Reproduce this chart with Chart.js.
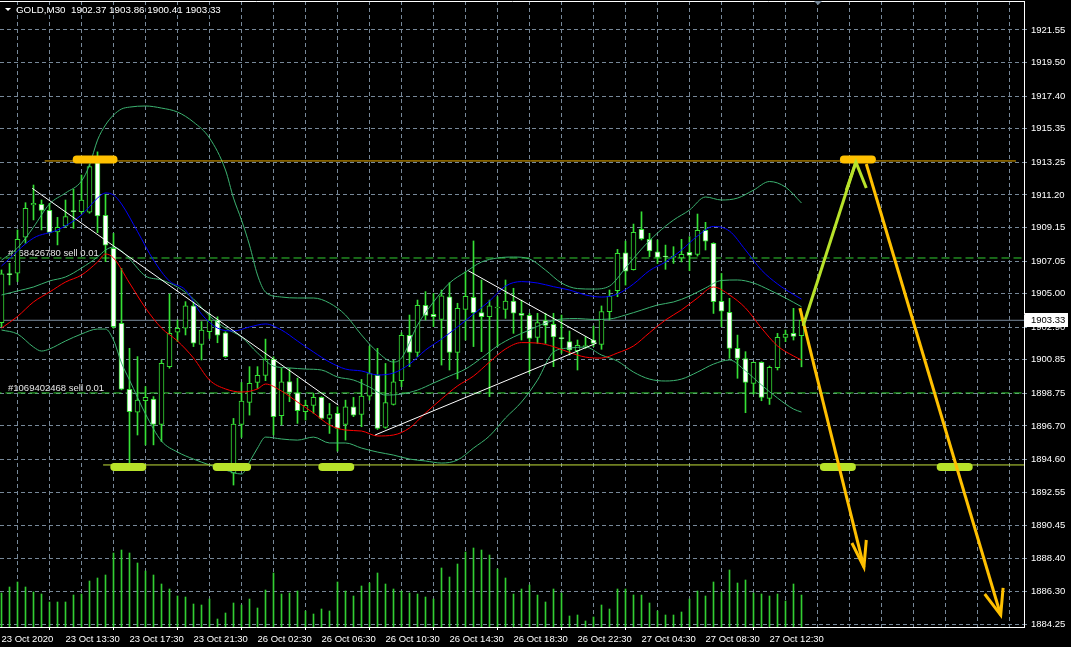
<!DOCTYPE html>
<html>
<head>
<meta charset="utf-8">
<script src="https://cdn.jsdelivr.net/npm/chart.js@4.4.1/dist/chart.umd.min.js"></script>
<style>
  html, body { margin: 0; padding: 0; background: #000; overflow: hidden; }
  #wrap { width: 1071px; height: 647px; }
</style>
</head>
<body>
<div id="wrap"><canvas id="chart" width="1071" height="647"></canvas></div>
<script>
// ---- data (GOLD M30) ----
const opens  = [1903.18,1906.24,1906.28,1908.54,1910.57,1910.61,1910.23,1908.87,1909.25,1910.19,1910.15,1910.11,1913.23,1909.92,1907.85,1903.14,1899.00,1897.56,1898.29,1898.39,1896.80,1900.42,1902.58,1902.83,1904.23,1901.82,1902.61,1903.34,1902.55,1893.74,1896.80,1898.18,1899.43,1899.87,1900.88,1897.34,1899.49,1898.78,1897.59,1897.99,1898.49,1897.17,1897.49,1896.80,1897.90,1897.42,1898.57,1899.87,1896.61,1898.05,1899.54,1902.39,1901.32,1904.27,1903.70,1903.39,1904.81,1901.32,1904.02,1904.77,1903.81,1903.56,1904.10,1904.02,1904.54,1903.77,1903.64,1902.26,1903.31,1903.08,1902.22,1901.99,1901.42,1901.68,1902.09,1901.82,1903.87,1905.19,1907.57,1906.51,1909.04,1908.41,1907.63,1907.34,1907.28,1907.24,1907.59,1907.47,1908.97,1908.16,1904.52,1903.83,1901.57,1900.92,1899.37,1900.69,1898.43,1900.35,1902.26,1902.51,1902.37];
const highs  = [1906.49,1906.91,1909.00,1910.71,1911.82,1910.88,1910.67,1909.79,1910.88,1911.55,1912.45,1913.10,1913.90,1911.24,1908.79,1906.59,1901.57,1901.05,1899.17,1898.54,1900.84,1904.98,1903.35,1904.50,1904.50,1903.25,1903.76,1903.55,1902.61,1897.17,1899.43,1900.42,1900.42,1902.15,1901.04,1900.31,1900.31,1899.70,1898.32,1898.74,1898.53,1898.11,1897.90,1898.32,1898.49,1899.62,1901.71,1901.57,1900.62,1900.83,1902.55,1903.66,1904.60,1905.13,1905.02,1905.23,1905.69,1904.40,1906.38,1908.31,1905.86,1904.60,1904.81,1905.86,1905.34,1904.60,1903.77,1903.77,1903.77,1903.77,1903.66,1902.66,1902.09,1902.30,1902.97,1904.23,1905.23,1907.78,1908.30,1909.37,1910.14,1908.79,1908.37,1908.05,1907.95,1908.41,1908.58,1910.00,1909.48,1908.20,1906.27,1904.71,1902.40,1901.36,1900.71,1900.73,1900.46,1902.51,1902.72,1904.08,1903.86];
const lows   = [1902.93,1905.55,1905.76,1908.16,1909.63,1909.00,1908.79,1908.06,1909.17,1909.10,1910.05,1910.05,1908.83,1907.01,1902.83,1898.96,1893.94,1896.13,1895.51,1895.51,1895.72,1900.32,1901.99,1902.41,1901.68,1900.84,1902.19,1901.92,1901.00,1892.99,1895.98,1897.38,1899.06,1899.54,1896.13,1896.75,1898.22,1896.86,1897.07,1897.49,1897.11,1896.23,1895.12,1895.81,1897.28,1896.65,1898.32,1896.48,1896.55,1898.01,1899.16,1900.42,1901.05,1903.35,1902.93,1900.52,1900.21,1899.65,1902.09,1901.68,1901.36,1898.54,1901.68,1903.45,1902.51,1902.09,1900.00,1901.88,1901.88,1900.42,1901.26,1901.15,1900.21,1901.57,1901.68,1901.51,1903.35,1904.81,1905.54,1906.48,1908.37,1907.32,1906.90,1906.53,1906.90,1906.99,1906.44,1907.36,1907.74,1903.76,1902.93,1900.94,1899.69,1897.53,1898.70,1898.28,1898.05,1900.21,1901.99,1902.09,1900.41];
const closes = [1906.24,1906.20,1908.41,1910.36,1910.67,1910.23,1908.85,1909.17,1909.84,1910.15,1910.88,1912.97,1909.88,1908.04,1902.93,1899.00,1897.60,1898.33,1898.50,1896.80,1900.63,1902.51,1902.83,1904.23,1901.89,1902.72,1903.34,1902.40,1901.04,1896.82,1898.26,1899.37,1899.87,1900.88,1897.28,1899.47,1898.80,1897.65,1897.99,1898.49,1897.17,1897.42,1896.55,1897.90,1897.38,1898.57,1899.99,1896.55,1898.16,1899.47,1902.38,1901.32,1904.27,1903.64,1903.56,1904.86,1901.32,1904.08,1904.83,1903.81,1903.56,1904.23,1904.14,1904.54,1903.77,1903.64,1902.20,1903.18,1903.01,1902.28,1902.18,1901.47,1901.76,1901.72,1901.88,1903.87,1904.85,1907.53,1906.42,1908.85,1908.43,1907.68,1907.28,1907.30,1907.30,1907.47,1907.40,1908.97,1908.30,1904.50,1903.91,1901.57,1900.94,1899.43,1900.69,1898.49,1900.38,1902.26,1902.47,1902.32,1903.33];
const volumes = [34,40,45,40,35,33,25,25,25,32,33,46,49,52,74,77,74,64,56,52,43,38,31,30,23,22,28,8,14,24,22,28,19,37,54,33,34,36,16,13,18,16,45,36,31,41,44,54,43,38,36,34,33,30,28,59,50,63,75,79,77,72,58,49,33,38,42,32,25,38,34,11,12,6,10,22,18,38,38,32,32,24,16,12,12,15,28,36,31,45,35,57,44,47,34,33,31,33,26,43,32];

const timeLabels = ['23 Oct 2020','23 Oct 13:30','23 Oct 17:30','23 Oct 21:30','26 Oct 02:30','26 Oct 06:30','26 Oct 10:30','26 Oct 14:30','26 Oct 18:30','26 Oct 22:30','27 Oct 04:30','27 Oct 08:30','27 Oct 12:30'];
const priceTicks = [1921.55,1919.50,1917.40,1915.35,1913.25,1911.20,1909.15,1907.05,1905.00,1902.90,1900.85,1898.75,1896.70,1894.60,1892.55,1890.45,1888.40,1886.30,1884.25];

// moving averages and bollinger bands (bar index, price)
const blueX = [0,4,7,10,12,13,14,15,17,19,21,23,25,27,29,31,33,35,37,39,41,43,45,47,49,51,53,55,57,59,61,63,65,67,69,71,73,75,77,79,81,83,85,87,89,91,93,95,97,99,100];
const blueY = [1906.74,1908.49,1909.00,1909.94,1911.00,1911.32,1911.19,1910.63,1908.90,1907.11,1905.79,1905.23,1903.72,1902.84,1902.66,1902.91,1903.10,1902.72,1902.03,1901.34,1900.71,1900.27,1900.15,1899.90,1900.02,1900.58,1901.46,1902.15,1902.91,1903.72,1904.54,1905.48,1905.76,1905.67,1905.44,1905.23,1904.92,1904.79,1904.98,1905.61,1906.45,1906.99,1907.74,1908.62,1909.22,1908.93,1907.74,1906.48,1905.61,1904.95,1904.66];
const redX  = [0,2,4,6,8,10,12,13,14,16,18,20,22,24,26,28,30,32,33,35,37,39,41,43,45,47,49,51,53,55,57,59,61,63,65,67,69,71,73,75,77,79,81,83,85,87,89,91,93,95,97,99,100];
const redY  = [1902.84,1903.57,1904.48,1905.10,1905.73,1906.17,1906.99,1907.49,1907.24,1905.67,1904.10,1902.84,1902.03,1900.96,1899.58,1899.02,1898.83,1899.02,1899.33,1898.89,1898.20,1897.51,1896.76,1896.44,1896.38,1896.07,1896.13,1896.57,1897.51,1898.39,1899.21,1899.83,1900.71,1901.53,1901.93,1901.90,1901.68,1901.31,1901.02,1900.96,1901.28,1901.72,1902.55,1903.35,1903.98,1904.73,1905.42,1904.92,1904.10,1902.84,1901.72,1901.09,1900.84];
const bandMidX = [0,2,4,6,8,10,12,13,14,15,16,18,20,22,24,26,28,30,32,34,36,38,40,42,44,46,48,50,52,54,56,58,60,62,64,66,68,70,72,74,76,78,80,82,84,86,88,90,92,94,96,98,100];
const bandMidY = [1904.92,1905.17,1905.42,1905.80,1906.05,1906.61,1907.30,1907.74,1907.93,1907.68,1907.18,1906.11,1905.86,1905.42,1904.67,1903.60,1902.84,1902.28,1901.28,1900.46,1900.34,1900.27,1900.21,1899.77,1899.58,1899.14,1898.64,1898.70,1898.95,1899.39,1899.83,1900.27,1900.96,1901.72,1902.28,1902.72,1903.16,1903.41,1903.44,1903.38,1903.41,1903.66,1903.97,1904.29,1904.48,1904.85,1905.36,1905.83,1905.86,1905.67,1905.23,1904.73,1904.18];
const bandUpX = [0,2,4,6,8,10,11,12,13,14,15,16,18,20,22,24,26,28,29,30,31,32,33,35,37,39,41,43,45,47,49,50,52,54,56,58,60,62,64,66,68,70,72,74,76,78,80,82,84,86,88,90,92,94,96,98,100];
const bandUpY = [1907.11,1907.87,1909.18,1910.63,1911.32,1912.07,1913.07,1914.64,1915.59,1916.21,1916.59,1916.71,1916.78,1916.65,1916.40,1915.77,1914.77,1912.76,1911.00,1909.62,1908.05,1906.17,1905.10,1904.79,1904.73,1904.73,1904.41,1903.66,1902.41,1901.34,1900.71,1900.96,1903.03,1904.48,1905.67,1906.36,1906.99,1907.24,1907.30,1907.18,1906.48,1905.67,1905.32,1905.29,1905.48,1906.61,1907.80,1908.81,1909.62,1910.25,1911.07,1910.88,1911.00,1911.50,1912.04,1911.69,1910.69];
const bandLowX = [0,2,4,5,6,8,10,12,13,14,15,16,18,20,22,24,26,28,30,31,32,33,35,37,39,41,43,45,47,49,51,53,55,57,59,61,63,65,67,69,71,73,75,77,79,81,83,85,87,89,91,93,95,97,99,100];
const bandLowY = [1902.72,1902.47,1901.65,1901.40,1901.53,1902.03,1902.47,1902.78,1902.78,1902.09,1900.65,1899.58,1897.45,1895.75,1895.06,1894.62,1894.25,1893.93,1893.68,1894.44,1895.31,1896.00,1895.88,1895.81,1896.00,1895.63,1895.63,1895.31,1895.06,1894.87,1894.62,1894.50,1894.37,1894.56,1895.31,1896.07,1897.20,1898.20,1899.58,1901.34,1901.59,1901.65,1901.15,1900.77,1900.08,1899.64,1899.52,1899.64,1900.08,1900.58,1900.84,1900.15,1899.27,1898.45,1897.76,1897.57];

// drawn objects: [startBar, startPrice, endBar, endPrice]
const trendLines = [[3.85,1911.61,42.1,1898.01],[46.7,1896.13,74.4,1901.90],[58.35,1906.44,74.2,1901.99]];
const orderLevels = [1907.24, 1898.77];
const orderTexts = ['#168426780 sell 0.01', '#1069402468 sell 0.01'];
const resistance = 1913.33;
const support = 1894.25;
const bidPrice = 1903.33;
const topMarks = [[9.4,14.0],[105.3,108.8]];
const bottomMarks = [[14.1,17.6],[26.9,30.7],[40.1,43.6],[102.8,106.3],[117.4,120.9]];
const upArrow = [[100.2,1902.97],[106.8,1913.26]];
const upArrowHead = [[105.6,1911.5],[106.8,1913.26],[108.1,1911.63]];
const downArrowA = [[99.8,1904.10],[107.8,1887.84]];
const downArrowAHead = [[106.3,1889.35],[107.8,1887.84],[108.1,1889.54]];
const downArrowB = [[108.1,1913.14],[124.9,1884.83]];
const downArrowBHead = [[122.9,1886.15],[124.9,1884.83],[125.2,1886.53]];

const bars = opens.map((_, i) => i);
const GREEN = '#36e036';
const FONT = "'Liberation Sans', Arial, sans-serif";
const GRID = '#778899';

const pts = (xs, ys) => xs.map((x, k) => ({ x, y: ys[k] }));
const seg = (pairs) => pairs.map(p => ({ x: p[0], y: p[1] }));
const line = (data, color, width, extra) => Object.assign({
  type: 'line', data, borderColor: color, borderWidth: width, pointRadius: 0,
  fill: false, yAxisID: 'y', xAxisID: 'x'
}, extra || {});

const datasets = [];
datasets.push({
  type: 'bar', data: bars.map(i => ({ x: i, y: volumes[i] })), backgroundColor: '#32cd32',
  barThickness: 1, grouped: false, yAxisID: 'yv', xAxisID: 'x', order: 20
});
datasets.push(line([{ x: -1, y: bidPrice }, { x: 130, y: bidPrice }], GRID, 1, { order: 19 }));
orderLevels.forEach(lv => datasets.push(line([{ x: -1, y: lv }, { x: 130, y: lv }], '#32cd32', 1, { borderDash: [8, 4], order: 18 })));
datasets.push({
  type: 'bar', data: bars.map(i => ({ x: i, y: [lows[i], highs[i]] })), backgroundColor: GREEN,
  barThickness: 1, grouped: false, yAxisID: 'y', xAxisID: 'x', order: 15
});
datasets.push({
  type: 'bar', data: bars.map(i => ({ x: i, y: [opens[i], closes[i]] })),
  backgroundColor: bars.map(i => closes[i] >= opens[i] ? '#000000' : '#ffffff'),
  borderColor: GREEN, borderWidth: 1, borderSkipped: false, minBarLength: 1,
  barThickness: 5, grouped: false, yAxisID: 'y', xAxisID: 'x', order: 14
});
datasets.push(line(pts(bandUpX, bandUpY), '#3cb371', 1, { order: 10, cubicInterpolationMode: 'monotone' }));
datasets.push(line(pts(bandMidX, bandMidY), '#3cb371', 1, { order: 10, cubicInterpolationMode: 'monotone' }));
datasets.push(line(pts(bandLowX, bandLowY), '#3cb371', 1, { order: 10, cubicInterpolationMode: 'monotone' }));
datasets.push(line(pts(redX, redY), '#ff0000', 1, { order: 9, cubicInterpolationMode: 'monotone' }));
datasets.push(line(pts(blueX, blueY), '#0000ff', 1, { order: 9, cubicInterpolationMode: 'monotone' }));
trendLines.forEach(t => datasets.push(line([{ x: t[0], y: t[1] }, { x: t[2], y: t[3] }], '#ffffff', 1, { order: 8 })));
datasets.push(line([{ x: 5.4, y: resistance }, { x: 126.8, y: resistance }], '#f0b000', 1, { order: 7 }));
datasets.push(line([{ x: 12.7, y: support }, { x: 130, y: support }], '#c4e03a', 1, { order: 7 }));
topMarks.forEach(m => datasets.push(line([{ x: m[0], y: 1913.42 }, { x: m[1], y: 1913.42 }], '#ffc000', 8, { borderCapStyle: 'round', order: 6 })));
bottomMarks.forEach(m => datasets.push(line([{ x: m[0], y: 1894.12 }, { x: m[1], y: 1894.12 }], '#b8e22a', 8, { borderCapStyle: 'round', order: 6 })));
[upArrow, upArrowHead].forEach(a => datasets.push(line(seg(a), '#b8e22a', 3, { order: 5 })));
[downArrowA, downArrowAHead, downArrowB, downArrowBHead].forEach(a => datasets.push(line(seg(a), '#ffc000', 3, { order: 5 })));

const overlay = {
  id: 'overlay',
  beforeDatasetsDraw(chart) {
    const { ctx, scales: { y } } = chart;
    ctx.save();
    ctx.font = '9.5px ' + FONT;
    ctx.fillStyle = '#e6e6e6';
    ctx.textBaseline = 'alphabetic';
    orderLevels.forEach((lv, k) => ctx.fillText(orderTexts[k], 8, y.getPixelForValue(lv) - 2));
    ctx.restore();
  },
  afterDraw(chart) {
    const { ctx, scales: { y } } = chart;
    ctx.save();
    // header
    ctx.fillStyle = '#ffffff';
    ctx.beginPath();
    ctx.moveTo(5, 8); ctx.lineTo(11, 8); ctx.lineTo(8, 11); ctx.closePath(); ctx.fill();
    ctx.font = '9.8px ' + FONT;
    ctx.textBaseline = 'alphabetic';
    ctx.fillText('GOLD,M30  ' + [opens[100], highs[100], lows[100], closes[100]].map(v => v.toFixed(2)).join(' '), 16, 13);
    // shift marker
    ctx.fillStyle = '#778899';
    ctx.beginPath();
    ctx.moveTo(814, 1); ctx.lineTo(822, 1); ctx.lineTo(818, 5); ctx.closePath(); ctx.fill();
    // bid price box
    const py = Math.round(y.getPixelForValue(bidPrice));
    ctx.fillStyle = '#ffffff';
    ctx.fillRect(1025, py - 7, 43, 14);
    ctx.fillStyle = '#000000';
    ctx.textBaseline = 'middle';
    ctx.font = '9.5px ' + FONT;
    ctx.fillText(bidPrice.toFixed(2), 1031, py + 0.5);
    ctx.restore();
  }
};

new Chart(document.getElementById('chart'), {
  type: 'bar',
  data: { datasets },
  plugins: [overlay],
  options: {
    responsive: false,
    animation: false,
    devicePixelRatio: 1,
    layout: { padding: 0 },
    plugins: { legend: { display: false }, tooltip: { enabled: false } },
    scales: {
      x: {
        type: 'linear', position: 'bottom', offset: false,
        min: -0.1875, max: 127.8125,
        afterBuildTicks: (s) => { s.ticks = []; for (let i = 0; i <= 124; i += 4) s.ticks.push({ value: i }); },
        afterFit: (s) => { s.height = 20; s.paddingLeft = 0; s.paddingRight = 0; },
        grid: {
          color: GRID, lineWidth: 1, drawTicks: true, tickLength: 3,
          tickColor: (c) => (c.tick && c.tick.value % 8 === 0 && c.tick.value <= 96) ? '#ffffff' : 'rgba(0,0,0,0)'
        },
        border: { display: true, color: '#ffffff', width: 1, dash: [4, 3] },
        ticks: {
          autoSkip: false, maxRotation: 0, minRotation: 0, align: 'start', padding: 4,
          color: '#ffffff', font: { family: FONT, size: 9.5 },
          callback: (v) => (v % 8 === 0 && timeLabels[v / 8]) ? timeLabels[v / 8] : ''
        }
      },
      xTop: {
        type: 'linear', position: 'top', min: 0, max: 1,
        afterFit: (s) => { s.height = 1; s.paddingLeft = 0; s.paddingRight = 0; },
        grid: { display: false, drawTicks: false },
        border: { display: true, color: '#ffffff', width: 1 },
        ticks: { display: false }
      },
      y: {
        type: 'linear', position: 'right',
        min: 1884.08, max: 1923.37,
        afterBuildTicks: (s) => { s.ticks = priceTicks.map(v => ({ value: v })); },
        afterFit: (s) => { s.width = 47; s.paddingTop = 0; s.paddingBottom = 0; },
        grid: { color: GRID, lineWidth: 1, drawTicks: true, tickLength: 4, tickColor: GRID, tickBorderDash: [2, 2] },
        border: { display: true, color: '#ffffff', width: 1, dash: [4, 3] },
        ticks: {
          autoSkip: false, padding: 3, crossAlign: 'near',
          color: '#ffffff', font: { family: FONT, size: 9.5 },
          callback: (v) => Number(v).toFixed(2)
        }
      },
      yv: { type: 'linear', display: false, min: 0, max: 626 }
    }
  }
});
</script>
</body>
</html>
